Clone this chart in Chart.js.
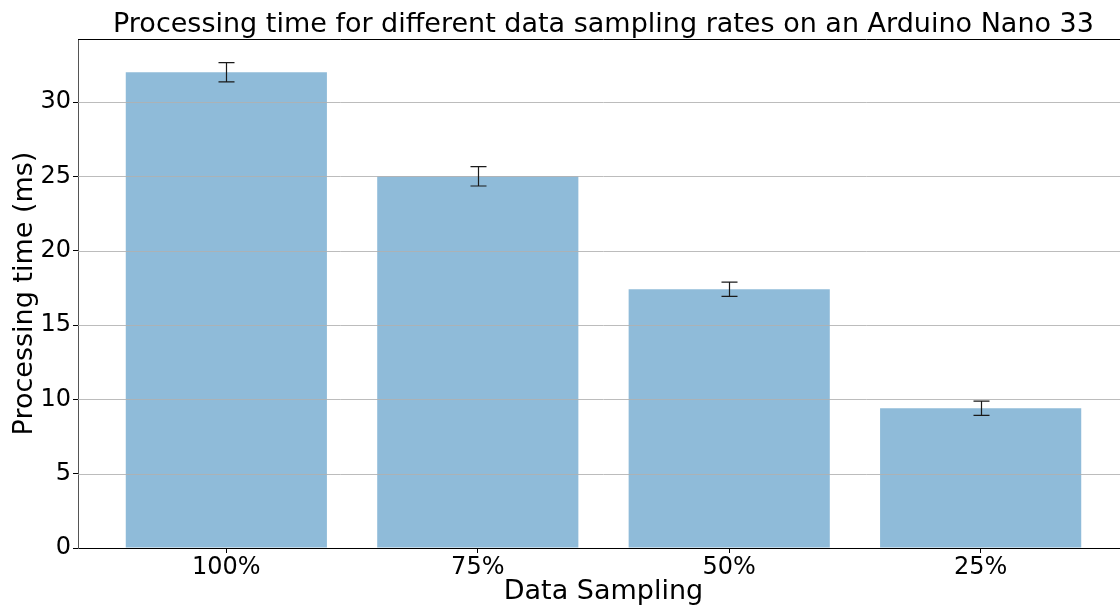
<!DOCTYPE html>
<html>
<head>
<meta charset="utf-8">
<script src="https://cdn.jsdelivr.net/npm/chart.js@4"></script>
<style>
  html, body { margin: 0; padding: 0; background: #fff; overflow: hidden; }
  #wrap { width: 1129px; height: 608px; }
</style>
</head>
<body>
<div id="wrap"><canvas id="chart"></canvas></div>
<script>
const categories = ['100%', '75%', '50%', '25%'];
const processingMs = [32.0, 25.0, 17.4, 9.4];
const errorMs = [0.65, 0.65, 0.48, 0.48];
const yTicks = [0, 5, 10, 15, 20, 25, 30];
const chartTitle = 'Processing time for different data sampling rates on an Arduino Nano 33';

const FONT = "'DejaVu Sans', sans-serif";

// grid above bars, error bars, top spine and title (centred on the axes)
const overlayPlugin = {
  id: 'overlay',
  afterDatasetsDraw(chart) {
    const { ctx, scales: { x, y }, chartArea } = chart;
    ctx.save();

    ctx.strokeStyle = 'rgba(176,176,176,0.85)';
    ctx.lineWidth = 1;
    yTicks.forEach(v => {
      if (v === 0) return;
      const py = Math.round(y.getPixelForValue(v)) + 0.5;
      ctx.beginPath();
      ctx.moveTo(chartArea.left, py);
      ctx.lineTo(chartArea.right, py);
      ctx.stroke();
    });

    ctx.strokeStyle = '#1a1a1a';
    ctx.lineWidth = 1.2;
    processingMs.forEach((v, i) => {
      const px = Math.round(x.getPixelForValue(i)) + 0.5;
      const top = y.getPixelForValue(v + errorMs[i]);
      const bot = y.getPixelForValue(v - errorMs[i]);
      ctx.beginPath();
      ctx.moveTo(px, top); ctx.lineTo(px, bot);
      ctx.moveTo(px - 8, top); ctx.lineTo(px + 8, top);
      ctx.moveTo(px - 8, bot); ctx.lineTo(px + 8, bot);
      ctx.stroke();
    });

    ctx.strokeStyle = '#000';
    ctx.lineWidth = 1;
    ctx.beginPath();
    ctx.moveTo(chartArea.left, chartArea.top + 0.5);
    ctx.lineTo(chartArea.right, chartArea.top + 0.5);
    ctx.stroke();

    ctx.fillStyle = '#000';
    ctx.font = "27px " + FONT;
    ctx.textAlign = 'center';
    ctx.textBaseline = 'middle';
    ctx.fillText(chartTitle, (chartArea.left + chartArea.right) / 2, 25);
    ctx.restore();
  }
};

new Chart(document.getElementById('chart'), {
  type: 'bar',
  data: {
    datasets: [{
      data: processingMs.map((v, i) => ({ x: i, y: v })),
      backgroundColor: 'rgba(31,119,180,0.5)',
      borderWidth: 0,
      barPercentage: 0.8,
      categoryPercentage: 1.0
    }]
  },
  options: {
    responsive: true,
    maintainAspectRatio: false,
    animation: false,
    layout: { padding: { left: 0, right: 0, top: 39, bottom: 0 } },
    plugins: {
      legend: { display: false },
      tooltip: { enabled: false },
      title: { display: false }
    },
    scales: {
      x: {
        type: 'linear',
        offset: false,
        min: -0.59,
        max: 3.59,
        afterBuildTicks: (s) => { s.ticks = categories.map((c, i) => ({ value: i })); },
        afterFit: (s) => { s.height = 60; },
        ticks: {
          callback: (v) => categories[v],
          color: '#000',
          font: { family: FONT, size: 24 },
          padding: 0,
          maxRotation: 0,
          autoSkip: false
        },
        grid: { offset: false, drawOnChartArea: false, drawTicks: true, tickLength: 5, tickColor: '#000' },
        border: { color: '#000', width: 1 },
        title: {
          display: true,
          text: 'Data Sampling',
          color: '#000',
          font: { family: FONT, size: 27 },
          padding: { top: 0, bottom: 0 }
        }
      },
      y: {
        min: 0,
        max: 34.24,
        afterBuildTicks: (s) => { s.ticks = yTicks.map(v => ({ value: v })); },
        afterFit: (s) => { s.width = 78; },
        ticks: {
          color: '#000',
          font: { family: FONT, size: 24 },
          padding: 2
        },
        grid: { drawOnChartArea: false, tickLength: 5, tickColor: '#000' },
        border: { color: '#555', width: 1 },
        title: {
          display: true,
          text: 'Processing time (ms)',
          color: '#000',
          font: { family: FONT, size: 27 },
          padding: { top: 9, bottom: 0 }
        }
      }
    }
  },
  plugins: [overlayPlugin]
});
</script>
</body>
</html>
